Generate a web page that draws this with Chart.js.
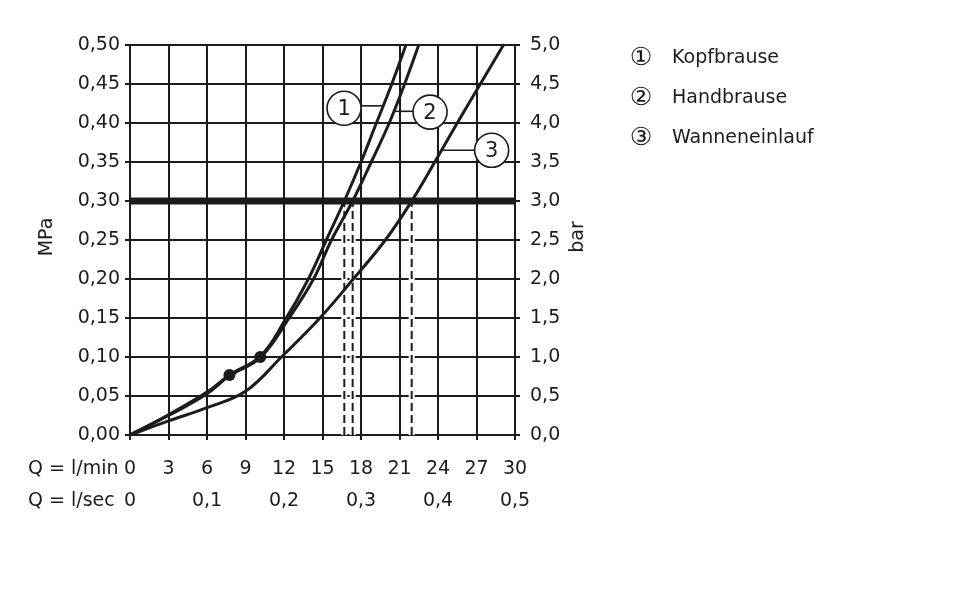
<!DOCTYPE html>
<html>
<head>
<meta charset="utf-8">
<script src="https://cdn.jsdelivr.net/npm/chart.js@4.4.1/dist/chart.umd.min.js"></script>
<style>
  html, body { margin: 0; padding: 0; background: #fff; }
  #wrap { width: 960px; height: 612px; position: relative; }
</style>
</head>
<body>
<div id="wrap"><canvas id="chart"></canvas></div>
<script>
// Flow Q (l/min) against pressure P (MPa)
const kopfQ = [0, 3, 6, 7.75, 10.15, 12, 13.9, 15.3, 16.7, 18.0, 19.2, 20.4, 21.5];
const kopfP = [0, 0.026, 0.055, 0.077, 0.101, 0.145, 0.20, 0.25, 0.30, 0.35, 0.40, 0.45, 0.50];
const handQ = [0, 3, 6, 7.75, 10.15, 12.4, 14.3, 15.7, 17.35, 18.8, 20.2, 21.4, 22.5];
const handP = [0, 0.025, 0.053, 0.076, 0.099, 0.15, 0.20, 0.25, 0.30, 0.35, 0.40, 0.45, 0.50];
const wanneQ = [0, 3, 6, 9, 11.8, 14.8, 17.4, 19.9, 21.95, 23.75, 25.5, 27.3, 29.1];
const wanneP = [0, 0.018, 0.035, 0.056, 0.10, 0.15, 0.20, 0.25, 0.30, 0.35, 0.40, 0.45, 0.50];

// minimum flow markers
const markQ = [7.75, 10.15];
const markP = [0.077, 0.10];

// 3 bar reference line and the flows read at it
const nominalP = 0.30;
const nominalQ = [16.7, 17.35, 21.95];

const seriesNames = ['Kopfbrause', 'Handbrause', 'Wanneneinlauf'];
const seriesMarks = ['①', '②', '③'];
const tagDigits = ['1', '2', '3'];
const flowUnits = ['Q = l/min', 'Q = l/sec'];
const axisUnits = ['MPa', 'bar'];

const ink = '#1c1c1c';
const font = 'DejaVu Sans';
const comma = (v, d) => v.toFixed(d).replace('.', ',');
const toPts = (xs, ys) => xs.map((x, i) => ({ x: x, y: ys[i] }));

function curve(xs, ys) {
    return {
        data: toPts(xs, ys),
        showLine: true,
        borderColor: ink,
        borderWidth: 3,
        pointRadius: 0,
        tension: 0.4,
        order: 1
    };
}

const datasets = [
    {
        data: toPts(markQ, markP),
        showLine: false,
        pointRadius: 6,
        pointBackgroundColor: ink,
        pointBorderWidth: 0,
        order: 0
    },
    curve(kopfQ, kopfP),
    curve(handQ, handP),
    curve(wanneQ, wanneP),
    {
        data: [{ x: 0, y: nominalP }, { x: 30, y: nominalP }],
        showLine: true,
        borderColor: ink,
        borderWidth: 7,
        pointRadius: 0,
        order: 2
    }
];

nominalQ.forEach(q => {
    const pts = [{ x: q, y: 0 }, { x: q, y: nominalP }];
    datasets.push({
        data: pts, showLine: true, borderColor: ink, borderWidth: 2,
        borderDash: [8, 4], pointRadius: 0, order: 3
    });
    // white backing so the grid breaks around the dashes
    datasets.push({
        data: pts, showLine: true, borderColor: '#ffffff', borderWidth: 6,
        pointRadius: 0, order: 4
    });
});

// numbered tags in data units: circle centre, leader from/to, leader height
const tags = [
    { q: 16.68, p: 0.419, from: 17.95, to: 19.75, lp: 0.422 },
    { q: 23.38, p: 0.414, from: 20.6, to: 22.05, lp: 0.415 },
    { q: 28.18, p: 0.365, from: 24.3, to: 26.85, lp: 0.365 }
];

const extras = {
    id: 'extras',
    afterDraw(chart) {
        const { ctx, chartArea } = chart;
        const xs = chart.scales.x;
        const x2 = chart.scales.x2;
        const ys = chart.scales.y;
        ctx.save();
        ctx.fillStyle = ink;
        ctx.strokeStyle = ink;

        // row captions under the flow axes
        ctx.font = '19px "' + font + '"';
        ctx.textAlign = 'left';
        ctx.textBaseline = 'middle';
        ctx.fillText(flowUnits[0], 28, xs.top + 5 + 18 + 11.4);
        ctx.fillText(flowUnits[1], 28, x2.top + 8 + 11.4);

        // rotated axis units
        const midY = (chartArea.top + chartArea.bottom) / 2 - 3;
        [[chartArea.left - 83, axisUnits[0]], [chartArea.right + 63, axisUnits[1]]].forEach(([tx, t]) => {
            ctx.save();
            ctx.translate(tx, midY);
            ctx.rotate(-Math.PI / 2);
            ctx.textAlign = 'center';
            ctx.fillText(t, 0, 0);
            ctx.restore();
        });

        // numbered tags on the curves
        ctx.lineWidth = 1.6;
        ctx.font = '21px "' + font + '"';
        ctx.textAlign = 'center';
        tags.forEach((t, i) => {
            const cx = xs.getPixelForValue(t.q);
            const cy = ys.getPixelForValue(t.p);
            const ly = ys.getPixelForValue(t.lp);
            ctx.beginPath();
            ctx.moveTo(xs.getPixelForValue(t.from), ly);
            ctx.lineTo(xs.getPixelForValue(t.to), ly);
            ctx.stroke();
            ctx.beginPath();
            ctx.arc(cx, cy, 17, 0, Math.PI * 2);
            ctx.fillStyle = '#ffffff';
            ctx.fill();
            ctx.stroke();
            ctx.fillStyle = ink;
            ctx.fillText(tagDigits[i], cx, cy + 1);
        });

        // key on the right
        ctx.textBaseline = 'alphabetic';
        seriesNames.forEach((name, i) => {
            const by = 63 + i * 40;
            ctx.font = '25px "' + font + '", "Noto Sans CJK JP"';
            ctx.textAlign = 'center';
            ctx.fillText(seriesMarks[i], 641, by + 2);
            ctx.font = '19px "' + font + '"';
            ctx.textAlign = 'left';
            ctx.fillText(name, 672, by);
        });
        ctx.restore();
    }
};

const gridStyle = { color: ink, lineWidth: 2, tickLength: 5, tickColor: ink };
const tickFont = { family: font, size: 19 };

new Chart(document.getElementById('chart'), {
    type: 'scatter',
    data: { datasets: datasets },
    options: {
        responsive: true,
        maintainAspectRatio: false,
        animation: false,
        layout: { padding: { top: 45, right: 360, bottom: 100, left: 0 } },
        plugins: {
            legend: { display: false },
            tooltip: { enabled: false }
        },
        scales: {
            x: {
                type: 'linear', position: 'bottom', min: 0, max: 30,
                grid: gridStyle,
                border: { color: ink, width: 2 },
                ticks: { stepSize: 3, color: ink, font: tickFont, padding: 18, maxRotation: 0 },
                afterFit: s => { s.height = 47; }
            },
            x2: {
                type: 'linear', position: 'bottom', min: 0, max: 0.5,
                grid: { display: false, drawTicks: false },
                border: { display: false },
                ticks: {
                    stepSize: 0.1, color: ink, font: tickFont, padding: 8, maxRotation: 0,
                    callback: v => v === 0 ? '0' : comma(v, 1)
                },
                afterFit: s => { s.height = 30; }
            },
            y: {
                type: 'linear', position: 'left', min: 0, max: 0.5,
                grid: gridStyle,
                border: { color: ink, width: 2 },
                ticks: { stepSize: 0.05, color: ink, font: tickFont, padding: 5, callback: v => comma(v, 2) },
                afterFit: s => { s.width = 130; }
            },
            y2: {
                type: 'linear', position: 'right', min: 0, max: 5,
                grid: { drawOnChartArea: false, color: ink, lineWidth: 2, tickLength: 5, tickColor: ink },
                border: { color: ink, width: 2 },
                ticks: { stepSize: 0.5, color: ink, font: tickFont, padding: 10, callback: v => comma(v, 1) },
                afterFit: s => { s.width = 85; }
            }
        }
    },
    plugins: [extras]
});
</script>
</body>
</html>
